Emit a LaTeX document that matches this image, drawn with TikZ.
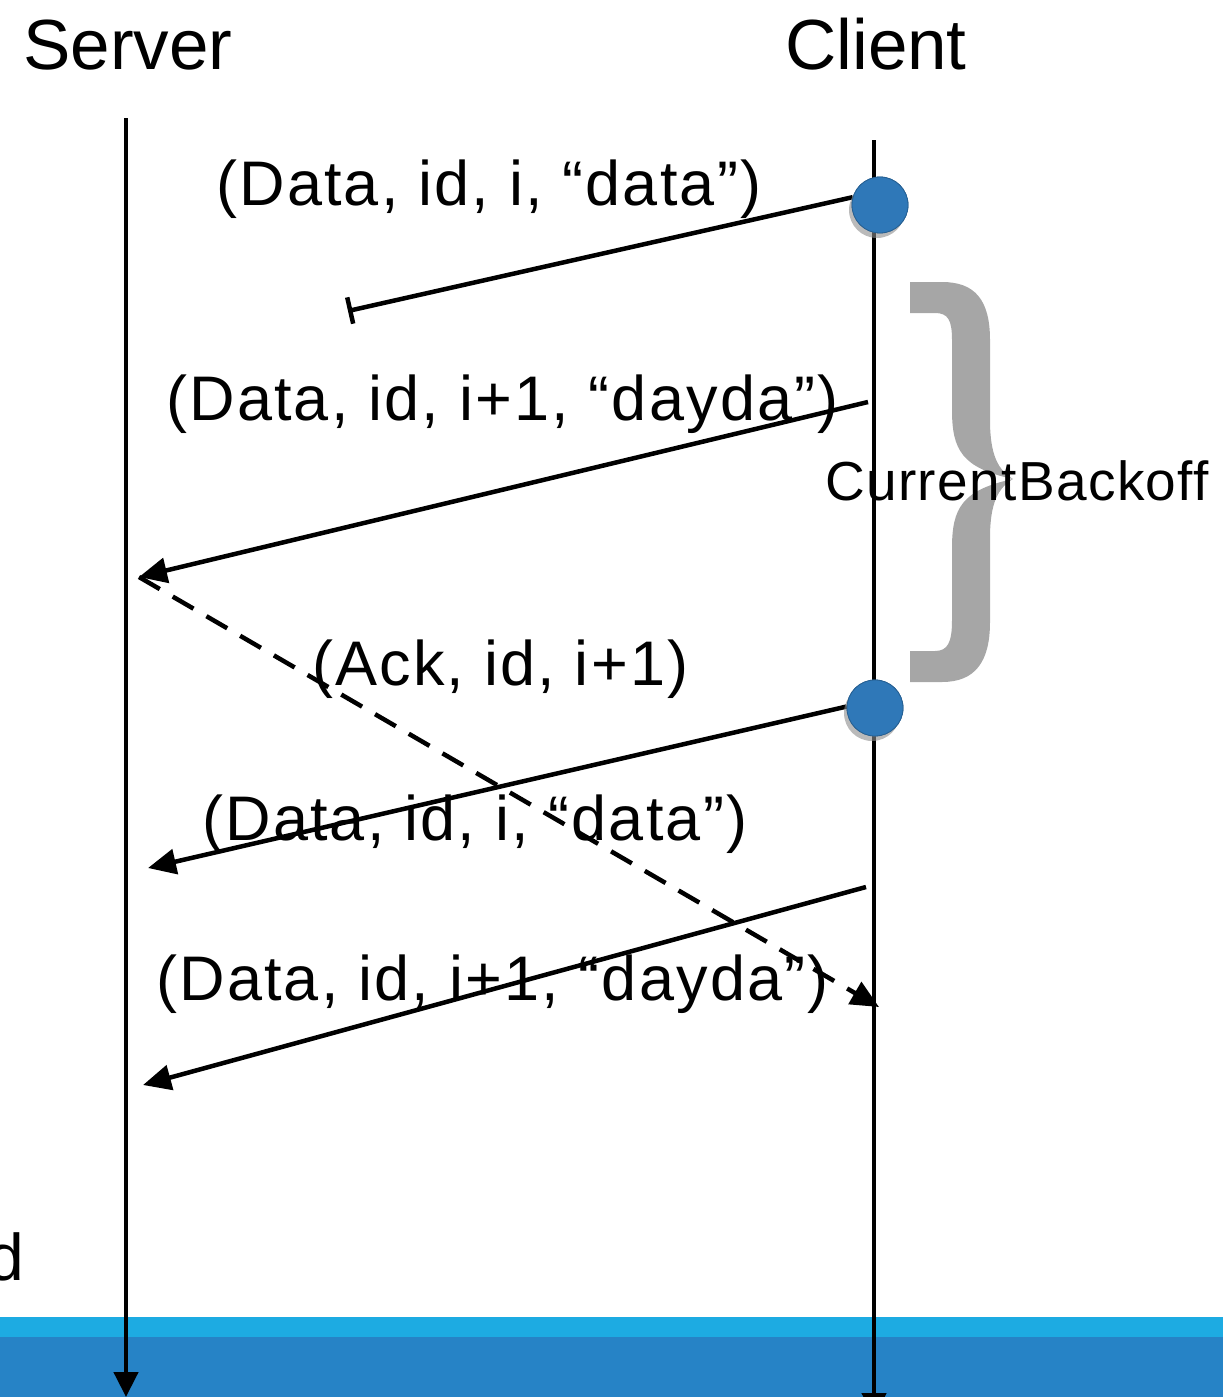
\documentclass[tikz,border=0pt]{standalone}
\usepackage{fontspec}
\setmainfont{Liberation Sans}
\newfontfamily\lblfont[LetterSpace=3.5]{Liberation Sans}
\newfontfamily\bkfont[LetterSpace=2.5]{Liberation Sans}
\usetikzlibrary{arrows.meta}
\definecolor{dotblue}{HTML}{2F78B8}
\definecolor{bandlight}{HTML}{1DABE2}
\definecolor{banddark}{HTML}{2683C6}
\definecolor{bracegray}{HTML}{A6A6A6}
\tikzset{
  lifeline/.style={line width=4.5pt, -{Triangle[length=25pt 0 0,width=24pt 0 0]}},
  msg/.style={line width=4.5pt, -{Triangle[length=28pt 0 0,width=25pt 0 0]}},
  lost/.style={line width=4.5pt, -{Bar[width=27pt 0 0,line width=4.5pt]}},
  reply/.style={msg, dash pattern=on 24pt off 15pt},
  actor/.style={inner sep=0pt, anchor=base, font=\fontsize{71}{80}\selectfont},
  lbl/.style={inner sep=0pt, anchor=base west, font=\fontsize{63}{72}\lblfont},
  event/.style={circle, fill=dotblue, draw=dotblue!80!black, line width=0.8pt, minimum size=56pt, inner sep=0pt},
  evshadow/.style={circle, fill=black!45, opacity=0.6, minimum size=56pt, inner sep=0pt}
}
\begin{document}
\begin{tikzpicture}[x=1pt,y=-1pt]
\useasboundingbox (0,0) rectangle (1223,1397);

% footer band
\fill[bandlight] (0,1317) rectangle (1223,1337);
\fill[banddark] (0,1337) rectangle (1223,1397);

% partial word at the left edge
\node[inner sep=0pt, anchor=base east, font=\fontsize{66}{75}\selectfont] (cut) at (24,1280) {d};

% actors and lifelines
\node[actor] (server) at (128,70) {Server};
\node[actor] (client) at (876,70) {Client};
\coordinate (stop) at (126,118);
\coordinate (sbot) at (126,1397);
\coordinate (ctop) at (874,140);
\coordinate (cbot) at (874,1418);
\draw[lifeline] (stop) -- (sbot);
\draw[lifeline] (ctop) -- (cbot);

% backoff brace
\fill[bracegray] (910,282) -- (942,282)
  .. controls (975,282) and (990,300) .. (990,340) -- (990,420)
  .. controls (990,455) and (998,470) .. (1013,479)
  .. controls (998,488) and (990,503) .. (990,538) -- (990,622)
  .. controls (990,662) and (975,682) .. (942,682) -- (910,682) -- (910,651) -- (935,651)
  .. controls (948,651) and (952,642) .. (952,620) -- (952,548)
  .. controls (952,508) and (962,490) .. (1013,479)
  .. controls (962,468) and (952,450) .. (952,410) -- (952,340)
  .. controls (952,320) and (948,313) .. (935,313) -- (910,313) -- cycle;
\node[inner sep=0pt, anchor=base west, font=\fontsize{55}{62}\bkfont] (backoff) at (825,500) {CurrentBackoff};

% event markers on the client lifeline
\node[event] (d1) at (880,205) {};
\node[event] (d2) at (875,708) {};

% message end points
\coordinate (lost1) at (348,311);
\coordinate (m2a) at (868,402);
\coordinate (m2b) at (139,577);
\coordinate (ackb) at (879,1007);
\coordinate (m3b) at (148,868);
\coordinate (m4a) at (866,887);
\coordinate (m4b) at (143,1085);

% messages
\draw[lost] (d1.164) -- (lost1);
\draw[msg] (m2a) -- (m2b);
\draw[reply] (m2b) -- (ackb);
\draw[msg] (d2.177) -- (m3b);
\draw[msg] (m4a) -- (m4b);

% redraw markers over the message starts
\node[evshadow] at (877,210) {};
\node[event] at (880,205) {};
\node[evshadow] at (872,713) {};
\node[event] at (875,708) {};

% message labels
\node[lbl] (l1) at (216,205) {(Data, id, i, “data”)};
\node[lbl] (l2) at (166,420) {(Data, id, i+1, “dayda”)};
\node[lbl] (l3) at (312,685) {(Ack, id, i+1)};
\node[lbl] (l4) at (202,840) {(Data, id, i, “data”)};
\node[lbl] (l5) at (156,1000) {(Data, id, i+1, “dayda”)};
\end{tikzpicture}
\end{document}
